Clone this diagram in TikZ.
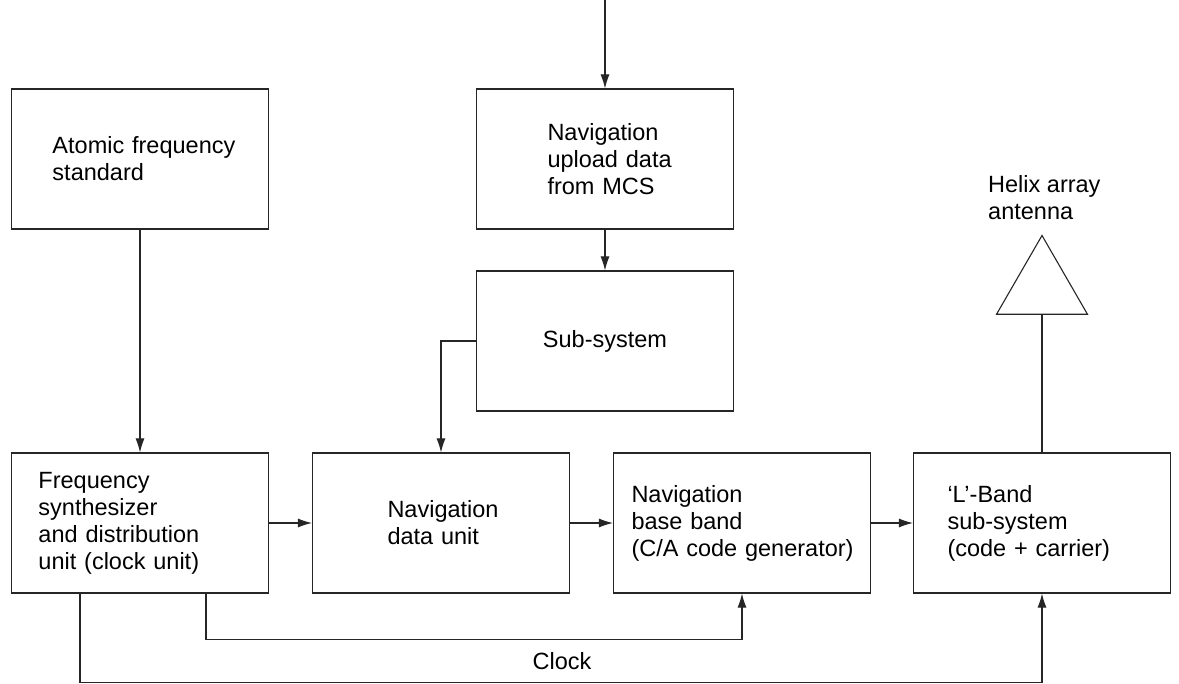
\documentclass[tikz,border=0pt]{standalone}
\usepackage{fontspec}
\setmainfont{Liberation Sans}
\usetikzlibrary{arrows.meta,shapes.geometric}

\tikzset{
  blk/.style={draw=black!85, line width=1.1pt, minimum width=257pt, minimum height=140pt,
    text width=257pt, inner xsep=0pt, inner ysep=0pt, align=left,
    font=\fontsize{23.5pt}{27pt}\selectfont},
  lbl/.style={inner sep=0pt, align=left, font=\fontsize{23.5pt}{27pt}\selectfont},
  ln/.style={draw=black!85, line width=1.1pt},
  arr/.style={ln, -{Latex[length=14pt,width=9pt]}},
}
\newcommand{\boxtext}[2]{\leftskip=#1\relax #2\par}

\begin{document}
\begin{tikzpicture}[x=1pt,y=1pt,yscale=-1,xscale=1]
\useasboundingbox (0,0) rectangle (1179,684);

%Shape: Rectangle [atomic]
\node [blk] (atomic) at (140,159) {\boxtext{41pt}{Atomic frequency\\standard}};
%Shape: Rectangle [upload]
\node [blk] (upload) at (605,159) {\boxtext{71pt}{Navigation\\upload data\\from MCS}};
%Shape: Rectangle [subsys]
\node [blk, align=center] (subsys) at (605,341) {Sub-system};
%Shape: Rectangle [freq]
\node [blk] (freq) at (140,523) {\boxtext{27pt}{Frequency\\synthesizer\\and distribution\\unit (clock unit)}};
%Shape: Rectangle [navdata]
\node [blk] (navdata) at (441,523) {\boxtext{75pt}{Navigation\\data unit}};
%Shape: Rectangle [baseband]
\node [blk] (baseband) at (742,523) {\boxtext{18pt}{Navigation\\base band\\(C/A code generator)}};
%Shape: Rectangle [lband]
\node [blk] (lband) at (1042,523) {\boxtext{34pt}{`L'-Band\\sub-system\\(code + carrier)}};
%Shape: Triangle [ant]
\node [ln, regular polygon, regular polygon sides=3, minimum size=105pt, inner sep=0pt] (ant) at (1042,288) {};

% Text Node
\node [lbl, anchor=north west] (helix) at (988,175) {Helix array\\antenna};
% Text Node
\node [lbl] (clk) at (562,661) {Clock};

%Straight Lines
\coordinate (src) at (605,0);
\draw [arr] (src) -- (upload.north);
\draw [arr] (upload) -- (subsys);
\draw [arr] (atomic) -- (freq);
\draw [arr] (subsys.west) -| (navdata.north);
\draw [arr] (freq) -- (navdata);
\draw [arr] (navdata) -- (baseband);
\draw [arr] (baseband) -- (lband);
\draw [ln] (lband.north) -- (ant.south);
%Clock Lines
\draw [arr] ([xshift=66pt]freq.south) -- ++(0,46) -| (baseband.south);
\draw [arr] ([xshift=-60pt]freq.south) -- ++(0,89) -| (lband.south);

\end{tikzpicture}
\end{document}
